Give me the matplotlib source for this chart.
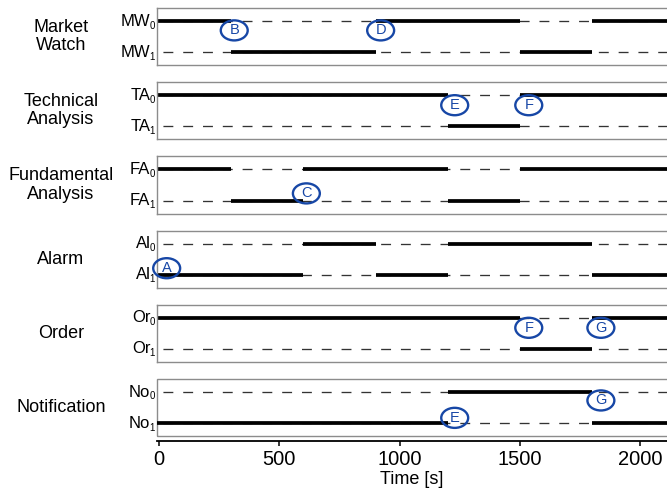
import matplotlib
matplotlib.use("Agg")
import matplotlib.pyplot as plt
from matplotlib.patches import Ellipse, Rectangle

plt.rcParams['font.family'] = ['Liberation Sans', 'DejaVu Sans']

# ---------------- data ----------------
groups = ["Market\nWatch", "Technical\nAnalysis", "Fundamental\nAnalysis",
          "Alarm", "Order", "Notification"]
prefixes = ["MW", "TA", "FA", "Al", "Or", "No"]
times = [0, 300, 600, 900, 1200, 1500, 1800, 2150]   # segment boundaries [s]
mw_states = [0, 1, 1, 0, 0, 1, 0]
ta_states = [0, 0, 0, 0, 1, 0, 0]
fa_states = [0, 1, 0, 0, 1, 0, 0]
al_states = [1, 1, 0, 1, 0, 0, 1]
or_states = [0, 0, 0, 0, 0, 1, 0]
no_states = [1, 1, 1, 1, 0, 0, 1]
all_states = [mw_states, ta_states, fa_states, al_states, or_states, no_states]

# event markers: (panel, letter, time, row position)
events = [(0, "B", 312, 0.30), (0, "D", 921, 0.30),
          (1, "E", 1229, 0.32), (1, "F", 1537, 0.32),
          (2, "C", 612, 0.77),
          (3, "A", 31, 0.79),
          (4, "F", 1537, 0.32), (4, "G", 1837, 0.32),
          (5, "G", 1837, 0.27), (5, "E", 1229, 0.83)]
xticks = [0, 500, 1000, 1500, 2000]

# ---------------- style ----------------
XLIM = (-8, 2112)
YLIM = (1.42, -0.42)
FRAME = '#8c8c8c'
BLUE = '#1747a6'
W, H = 667, 493

fig = plt.figure(figsize=(W / 100, H / 100), dpi=100)
gs = fig.add_gridspec(6, 1, left=157.3 / W, right=1.0,
                      top=1 - 8 / H, bottom=1 - 436.2 / H, hspace=0.297)

for i, (grp, pre, st) in enumerate(zip(groups, prefixes, all_states)):
    ax = fig.add_subplot(gs[i])
    ax.set_xlim(*XLIM)
    ax.set_ylim(*YLIM)
    for row in (0, 1):
        ax.axhline(row, color='#333333', lw=0.95,
                   ls=(10.5, (7.5, 7.5)), zorder=1)
    for k, s in enumerate(st):
        x0 = XLIM[0] if k == 0 else times[k]
        ax.plot([x0, times[k + 1]], [s, s], color='black', lw=2.7,
                solid_capstyle='butt', zorder=2)
    ax.set_yticks([0, 1])
    ax.set_yticklabels([])
    ax.tick_params(axis='y', length=0)
    for row in (0, 1):
        ax.annotate(pre, xy=(0, row), xycoords=('axes fraction', 'data'),
                    xytext=(-5.0, 0), textcoords='offset points',
                    ha='right', va='center', fontsize=12)
        ax.annotate(str(row), xy=(0, row), xycoords=('axes fraction', 'data'),
                    xytext=(-1.6, -6.8), textcoords='offset points',
                    ha='right', va='bottom', fontsize=7)
    for sp in ax.spines.values():
        sp.set_color(FRAME)
        sp.set_linewidth(1.0)
    ax.spines['right'].set_visible(False)

    # group label
    bb = ax.get_position()
    fig.text(61 / W, (bb.y0 + bb.y1) / 2, grp, ha='center', va='center',
             fontsize=13, linespacing=1.1)

    for (p, letter, tx, ty) in events:
        if p != i:
            continue
        ax.add_patch(Ellipse((tx, ty), width=112, height=0.645, fill=False,
                             edgecolor=BLUE, lw=1.7, zorder=4, clip_on=False))
        ax.text(tx, ty, letter, color=BLUE, fontsize=10.5, ha='center',
                va='center', zorder=5)

    if i < 5:
        ax.set_xticks([])
    else:
        ax.add_patch(Rectangle((0, 0), 1.01, 1, transform=ax.transAxes,
                               fill=False, edgecolor=FRAME, lw=1.0,
                               clip_on=False, zorder=0))
        ax.spines['bottom'].set_color('black')
        ax.spines['bottom'].set_linewidth(1.3)
        ax.spines['bottom'].set_position(('outward', 3.6))
        ax.spines['top'].set_visible(False)
        ax.spines['left'].set_visible(False)
        ax.set_xticks(xticks)
        ax.tick_params(axis='x', direction='out', length=3.5, width=1.1,
                       labelsize=14.5, pad=3)
        ax.set_xlabel("Time [s]", fontsize=13, labelpad=1)

fig.savefig("out.png", dpi=100)
